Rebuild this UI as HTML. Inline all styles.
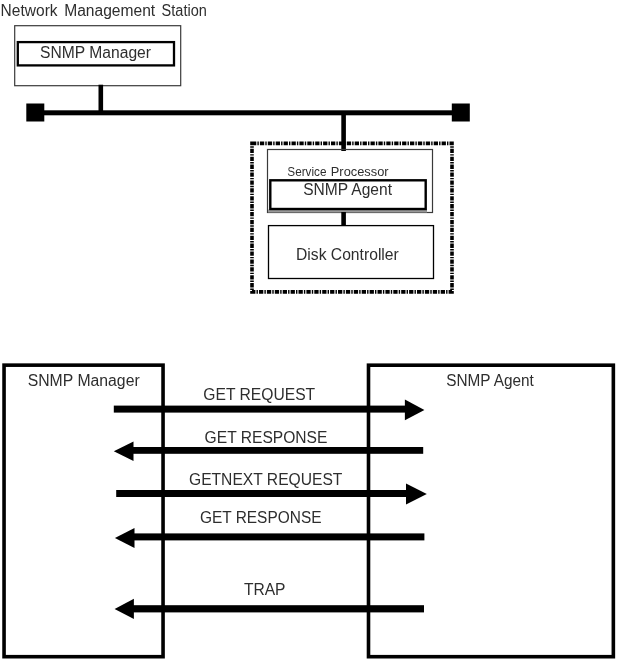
<!DOCTYPE html>
<html>
<head>
<meta charset="utf-8">
<title>SNMP</title>
<style>
html,body{margin:0;padding:0;background:#fff;}
body{width:625px;height:666px;overflow:hidden;font-family:"Liberation Sans",sans-serif;}
svg{display:block;will-change:transform;filter:grayscale(1);}
text{font-family:"Liberation Sans",sans-serif;fill:#2e2e2e;}
</style>
</head>
<body>
<svg width="625" height="666" viewBox="0 0 625 666">
<rect x="0" y="0" width="625" height="666" fill="#ffffff"/>

<!-- top diagram -->
<text x="0.6" y="15.7" font-size="15.6" textLength="57" lengthAdjust="spacingAndGlyphs">Network</text>
<text x="64.2" y="15.7" font-size="15.6" textLength="91" lengthAdjust="spacingAndGlyphs">Management</text>
<text x="161.6" y="15.7" font-size="15.6" textLength="45.2" lengthAdjust="spacingAndGlyphs">Station</text>
<rect x="14.7" y="25.7" width="166" height="60" fill="none" stroke="#3a3a3a" stroke-width="1.2"/>
<rect x="17.8" y="42.1" width="156.2" height="23.3" fill="none" stroke="#000" stroke-width="2.3"/>
<text x="40" y="57.7" font-size="15.6" textLength="111" lengthAdjust="spacingAndGlyphs">SNMP Manager</text>

<rect x="98.5" y="84.7" width="4.6" height="28" fill="#000"/>
<rect x="35" y="110.3" width="426" height="5" fill="#000"/>
<rect x="26.3" y="103.5" width="18" height="18" fill="#000"/>
<rect x="451.8" y="103.5" width="18" height="18" fill="#000"/>
<rect x="341.3" y="113" width="4.6" height="38" fill="#000"/>

<!-- dashed enclosure -->
<rect x="252" y="143.4" width="200" height="148.5" fill="none" stroke="#000" stroke-width="3.6" stroke-dasharray="4.3 1.1 1.4 1.1"/>

<rect x="267.5" y="149.5" width="165" height="63" fill="none" stroke="#3a3a3a" stroke-width="1.2"/>
<text x="287.3" y="176" font-size="12.6" textLength="39.2" lengthAdjust="spacingAndGlyphs">Service</text>
<text x="330.8" y="176" font-size="12.6" textLength="57.8" lengthAdjust="spacingAndGlyphs">Processor</text>
<rect x="286" y="165" width="2.3" height="6" fill="#ffffff"/>
<rect x="268" y="209.5" width="159" height="3" fill="#9a9a9a"/>
<rect x="270.3" y="180.3" width="155.4" height="28.7" fill="#ffffff" stroke="#000" stroke-width="2.4"/>
<text x="303.2" y="194.6" font-size="15.6" textLength="88.8" lengthAdjust="spacingAndGlyphs">SNMP Agent</text>
<rect x="341.3" y="212" width="4.6" height="13.5" fill="#000"/>
<rect x="268.5" y="225.6" width="165" height="52.9" fill="none" stroke="#000" stroke-width="1.3"/>
<text x="296" y="259.8" font-size="15.6" textLength="102.8" lengthAdjust="spacingAndGlyphs">Disk Controller</text>

<!-- bottom diagram -->
<rect x="4.05" y="365.15" width="159" height="291.55" fill="none" stroke="#000" stroke-width="3.6"/>
<rect x="368.5" y="365.2" width="244.85" height="291.5" fill="none" stroke="#000" stroke-width="3.6"/>
<text x="27.7" y="385.9" font-size="15.6" textLength="112" lengthAdjust="spacingAndGlyphs">SNMP Manager</text>
<text x="446.2" y="386.4" font-size="15.6" textLength="87.6" lengthAdjust="spacingAndGlyphs">SNMP Agent</text>

<!-- arrow 1 right -->
<rect x="113.8" y="405.6" width="292" height="7" fill="#000"/>
<polygon points="404.9,399.5 424.4,409.9 404.9,420.3" fill="#000"/>
<text x="203.3" y="399.5" font-size="15.6" textLength="111.9" lengthAdjust="spacingAndGlyphs">GET REQUEST</text>

<!-- arrow 2 left -->
<rect x="132" y="447" width="291.2" height="6.8" fill="#000"/>
<polygon points="133.5,441.5 113.8,451.2 133.5,461" fill="#000"/>
<text x="204.6" y="442.8" font-size="15.6" textLength="122.8" lengthAdjust="spacingAndGlyphs">GET RESPONSE</text>

<!-- arrow 3 right -->
<rect x="116.2" y="490" width="291" height="7" fill="#000"/>
<polygon points="406,483.6 426.8,494 406,504.4" fill="#000"/>
<text x="189" y="485" font-size="15.6" textLength="153.4" lengthAdjust="spacingAndGlyphs">GETNEXT REQUEST</text>

<!-- arrow 4 left -->
<rect x="133" y="533.4" width="291.4" height="7" fill="#000"/>
<polygon points="134.5,528.1 114.9,538 134.5,548.1" fill="#000"/>
<text x="199.9" y="523.4" font-size="15.6" textLength="121.6" lengthAdjust="spacingAndGlyphs">GET RESPONSE</text>

<!-- arrow 5 left -->
<rect x="133" y="605.2" width="291" height="7.2" fill="#000"/>
<polygon points="133.9,598.8 114.6,608.9 133.9,619" fill="#000"/>
<text x="243.9" y="594.7" font-size="15.6" textLength="41.6" lengthAdjust="spacingAndGlyphs">TRAP</text>
</svg>
</body>
</html>
